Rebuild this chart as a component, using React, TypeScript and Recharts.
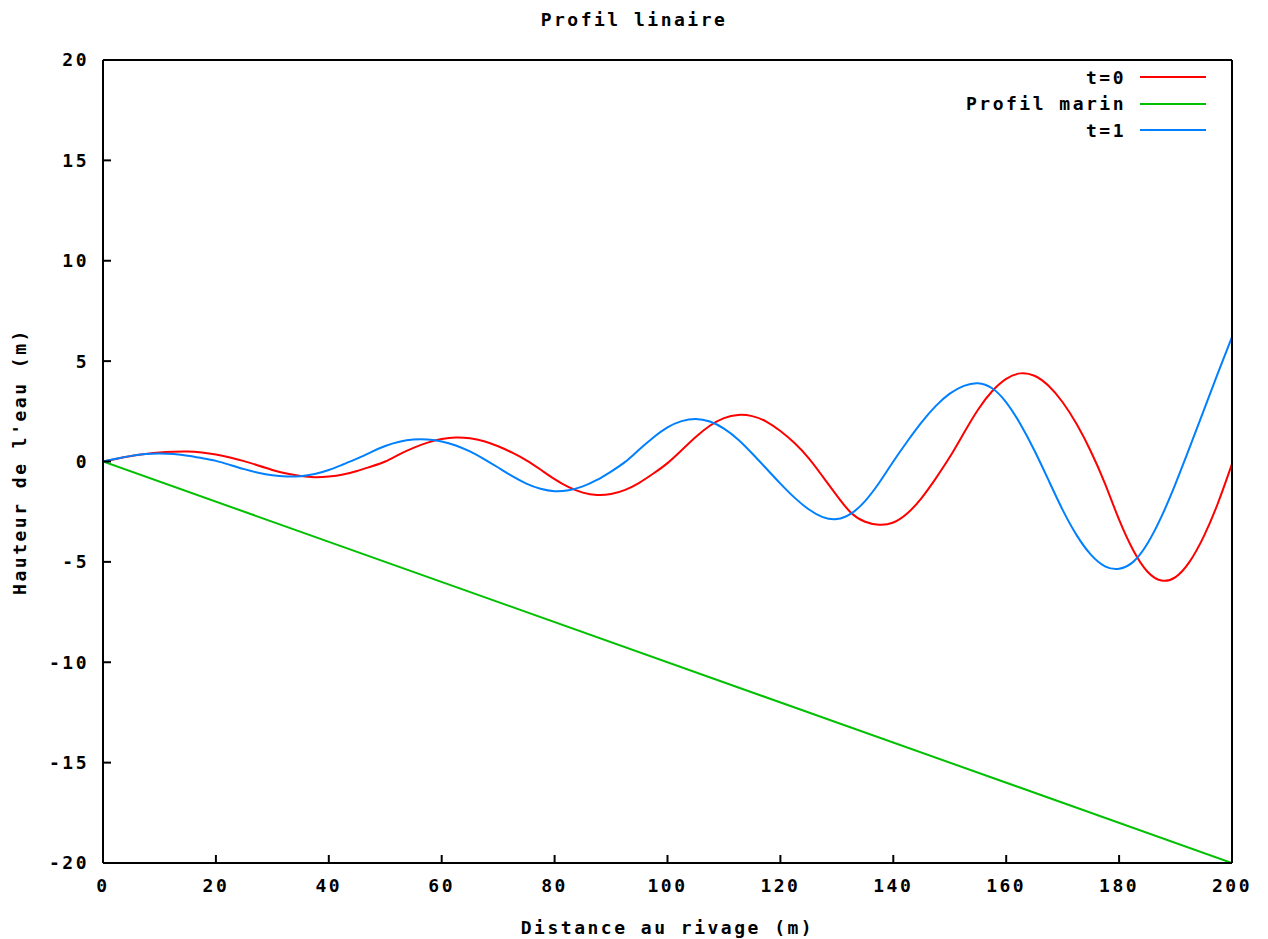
import React from 'react';
import { LineChart, Line, XAxis, YAxis } from 'recharts';

// distance au rivage (m), pas de 2.5 m
const distances = [
  0, 2.5, 5, 7.5, 10, 12.5, 15, 17.5, 20, 22.5,
  25, 27.5, 30, 32.5, 35, 37.5, 40, 42.5, 45, 47.5,
  50, 52.5, 55, 57.5, 60, 62.5, 65, 67.5, 70, 72.5,
  75, 77.5, 80, 82.5, 85, 87.5, 90, 92.5, 95, 97.5,
  100, 102.5, 105, 107.5, 110, 112.5, 115, 117.5, 120, 122.5,
  125, 127.5, 130, 132.5, 135, 137.5, 140, 142.5, 145, 147.5,
  150, 152.5, 155, 157.5, 160, 162.5, 165, 167.5, 170, 172.5,
  175, 177.5, 180, 182.5, 185, 187.5, 190, 192.5, 195, 197.5, 200,
];

// t=0
const heightT0 = [
  0, 0.14, 0.27, 0.37, 0.45, 0.49, 0.5, 0.45, 0.35, 0.2,
  0.02, -0.2, -0.42, -0.6, -0.72, -0.78, -0.75, -0.65, -0.47, -0.25,
  0, 0.36, 0.68, 0.94, 1.12, 1.2, 1.16, 1.01, 0.76, 0.44,
  0.06, -0.4, -0.88, -1.28, -1.55, -1.67, -1.62, -1.41, -1.06, -0.6,
  -0.08, 0.56, 1.22, 1.78, 2.16, 2.32, 2.26, 1.99, 1.52, 0.92,
  0.17, -0.75, -1.7, -2.55, -3.0, -3.15, -3.04, -2.58, -1.82, -0.85,
  0.22, 1.42, 2.58, 3.5, 4.12, 4.39, 4.27, 3.77, 2.95, 1.85,
  0.5, -1.1, -2.9, -4.42, -5.48, -5.93, -5.76, -4.99, -3.73, -2.08, -0.12,
];

// t=1
const heightT1 = [
  0, 0.15, 0.28, 0.37, 0.4, 0.37, 0.29, 0.17, 0.03, -0.17,
  -0.38, -0.56, -0.69, -0.75, -0.73, -0.62, -0.42, -0.15, 0.14, 0.47,
  0.77, 0.98, 1.09, 1.09, 1.0, 0.8, 0.5, 0.12, -0.3, -0.73,
  -1.1, -1.36, -1.48, -1.43, -1.24, -0.92, -0.5, -0.02, 0.6, 1.2,
  1.7, 2.01, 2.12, 1.99, 1.64, 1.1, 0.4, -0.35, -1.1, -1.8,
  -2.38, -2.77, -2.87, -2.6, -1.97, -1.06, 0, 1.01, 1.95, 2.76,
  3.38, 3.77, 3.9, 3.65, 2.95, 1.87, 0.55, -0.93, -2.41, -3.68,
  -4.64, -5.22, -5.34, -5.0, -4.1, -2.75, -1.1, 0.7, 2.55, 4.4, 6.2,
];

// profil marin
const seabedX = [0, 200];
const seabedY = [0, -20];

const xTicks = [0, 20, 40, 60, 80, 100, 120, 140, 160, 180, 200];
const yTicks = [-20, -15, -10, -5, 0, 5, 10, 15, 20];

const waveData = distances.map((x, i) => ({ x, t0: heightT0[i], t1: heightT1[i] }));
const seabedData = seabedX.map((x, i) => ({ x, profil: seabedY[i] }));

const FONT = '"DejaVu Sans Mono", "Liberation Mono", monospace';
const textStyle = { fontFamily: FONT, fontWeight: 700, fontSize: 18, letterSpacing: 2.5, fill: '#000' };

const legendItems = [
  { label: 't=0', color: '#ff0000' },
  { label: 'Profil marin', color: '#00c000' },
  { label: 't=1', color: '#0080ff' },
];

export default function App() {
  return (
    <div style={{ position: 'absolute', left: 0, top: 0, width: 1268, height: 939, background: '#fff', overflow: 'hidden' }}>
      <div
        style={{
          position: 'absolute', top: 9, left: 0, width: 1268, textAlign: 'center',
          fontFamily: FONT, fontWeight: 700, fontSize: 18, letterSpacing: 2.5,
        }}
      >
        Profil linaire
      </div>
      <LineChart width={1268} height={939} margin={{ top: 30, right: 0, left: 0, bottom: 36 }}>
        <XAxis
          dataKey="x"
          type="number"
          domain={[0, 200]}
          ticks={xTicks}
          allowDataOverflow
          height={40}
          stroke="#000"
          strokeWidth={2}
          tickSize={-8}
          tickMargin={24}
          tick={textStyle}
          label={{ value: 'Distance au rivage (m)', position: 'bottom', offset: 18, style: { ...textStyle, textAnchor: 'middle' } }}
        />
        <XAxis
          xAxisId="top"
          orientation="top"
          dataKey="x"
          type="number"
          domain={[0, 200]}
          ticks={xTicks}
          height={30}
          stroke="#000"
          strokeWidth={2}
          tickSize={-8}
          tick={false}
        />
        <YAxis
          type="number"
          domain={[-20, 20]}
          ticks={yTicks}
          width={103}
          stroke="#000"
          strokeWidth={2}
          tickSize={-8}
          tickMargin={22}
          tick={textStyle}
          label={{ value: "Hauteur de l'eau (m)", angle: -90, position: 'insideLeft', offset: 20, style: { ...textStyle, textAnchor: 'middle' } }}
        />
        <YAxis
          yAxisId="right"
          orientation="right"
          type="number"
          domain={[-20, 20]}
          ticks={yTicks}
          width={36}
          stroke="#000"
          strokeWidth={2}
          tickSize={-8}
          tick={false}
        />
        <Line data={waveData} dataKey="t0" type="natural" stroke="#ff0000" strokeWidth={2} dot={false} isAnimationActive={false} />
        <Line data={seabedData} dataKey="profil" type="linear" stroke="#00c000" strokeWidth={2} dot={false} isAnimationActive={false} />
        <Line data={waveData} dataKey="t1" type="natural" stroke="#0080ff" strokeWidth={2} dot={false} isAnimationActive={false} />
      </LineChart>
      <div
        style={{
          position: 'absolute', top: 64, right: 62,
          fontFamily: FONT, fontWeight: 700, fontSize: 18, letterSpacing: 2.5,
        }}
      >
        {legendItems.map(item => (
          <div key={item.label} style={{ display: 'flex', alignItems: 'center', justifyContent: 'flex-end', height: 26.5 }}>
            <span>{item.label}</span>
            <span style={{ display: 'inline-block', width: 66, height: 2, background: item.color, marginLeft: 14 }} />
          </div>
        ))}
      </div>
    </div>
  );
}
